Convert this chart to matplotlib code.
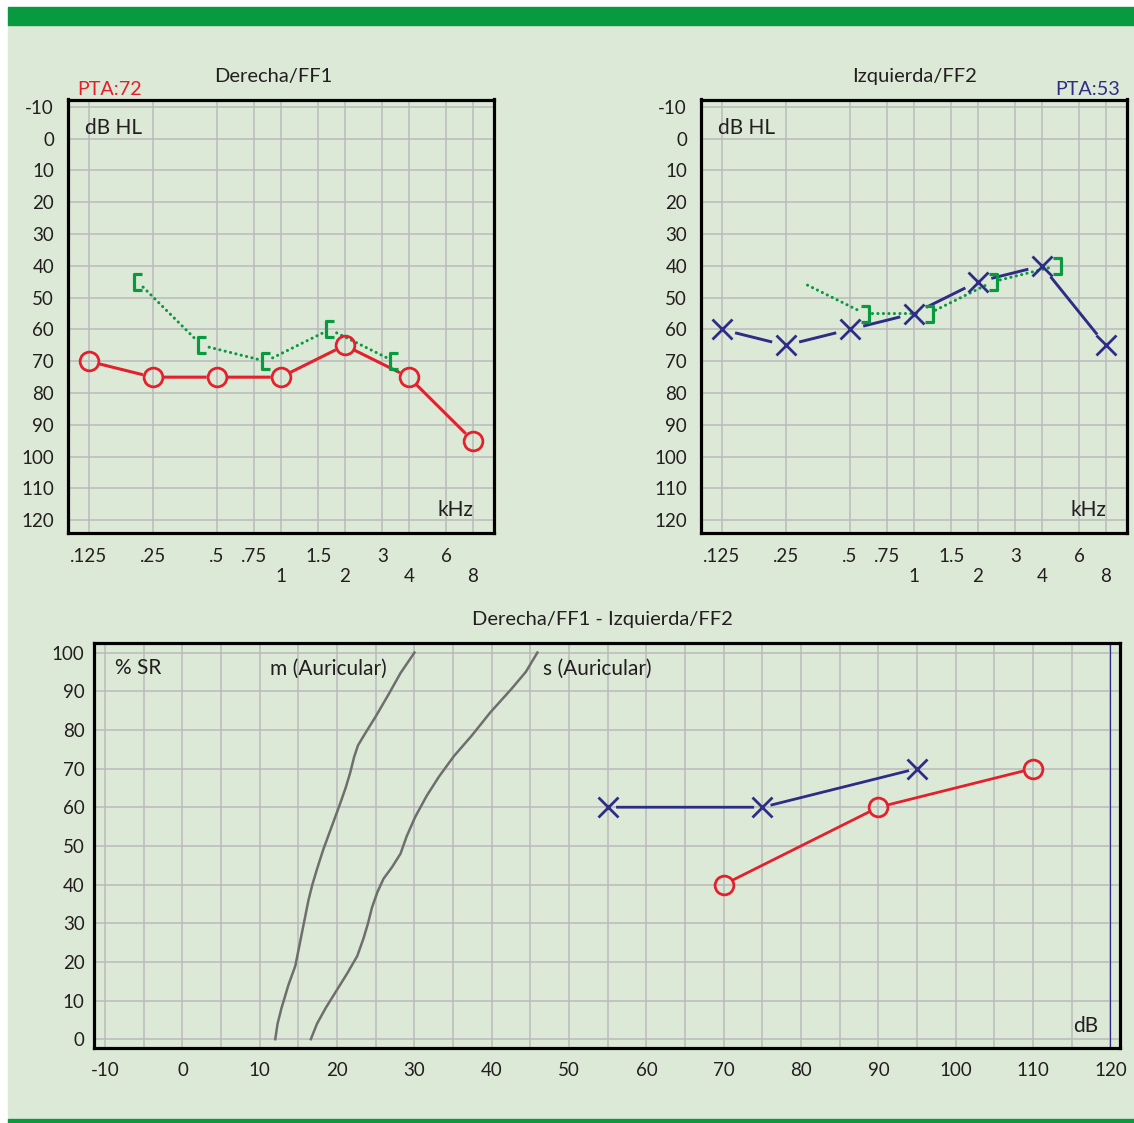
import matplotlib
matplotlib.use("Agg")
import matplotlib.pyplot as plt
from matplotlib.markers import MarkerStyle
from matplotlib.patches import Rectangle
from matplotlib.path import Path
from matplotlib.transforms import offset_copy

plt.rcParams["font.family"] = ["Lato", "DejaVu Sans"]
plt.rcParams["axes.unicode_minus"] = False

BG = "#DDE9D7"
GREEN = "#089A3E"
RED = "#E3202C"
BLUE = "#2E2D86"
GRID = "#B9B9B9"
INK = "#231F20"
GREY = "#6E6E6E"

# --- audiometria tonal (dB HL) ---
freqs = [0.125, 0.25, 0.5, 1, 2, 4, 8]
right_air = [70, 75, 75, 75, 65, 75, 95]
left_air = [60, 65, 60, 55, 45, 40, 65]
right_bone_f = [0.25, 0.5, 1, 2, 4]
right_bone = [45, 65, 70, 60, 70]
left_bone_f = [0.25, 0.5, 1, 2, 4]
left_bone = [45, 55, 55, 45, 40]
pta_right = 72
pta_left = 53

freq_top = [0.125, 0.25, 0.5, 0.75, 1.5, 3, 6]
freq_top_lbl = [".125", ".25", ".5", ".75", "1.5", "3", "6"]
freq_bot = [1, 2, 4, 8]
freq_bot_lbl = ["1", "2", "4", "8"]
db_ticks = list(range(-10, 121, 10))

# --- logoaudiometria (% SR) ---
speech_db_right = [70, 90, 110]
speech_pct_right = [40, 60, 70]
speech_db_left = [55, 75, 95]
speech_pct_left = [60, 60, 70]
m_db = [12.0, 12.3, 12.8, 13.7, 14.6, 15.1, 15.5, 15.9, 16.3, 16.8, 17.4,
        18.2, 19.3, 20.4, 21.1, 21.7, 22.2, 22.7, 23.6, 25.0, 26.6, 28.2, 30.0]
m_pct = [0, 4, 8, 14, 19, 24, 28, 32, 36, 40, 44, 49, 55, 61, 65, 69, 73,
         76, 79, 83.5, 89, 94.7, 100]
s_db = [16.6, 17.4, 18.5, 19.9, 21.3, 22.6, 23.4, 24.0, 24.5, 25.2, 26.0,
        27.1, 28.2, 29.0, 30.1, 31.6, 33.2, 35.1, 37.4, 39.8, 42.5, 44.4, 45.9]
s_pct = [0, 4, 8, 12.5, 17, 21.5, 26, 30, 34, 38, 41.5, 44.5, 48, 52.5,
         57.5, 63, 68, 73.2, 78.5, 84.5, 90.5, 95, 100]
speech_x_ticks = list(range(-10, 121, 10))
speech_x_minor = list(range(-5, 121, 10))
speech_y_ticks = list(range(0, 101, 10))

# corchetes de via osea enmascarada
OPEN_L = MarkerStyle(Path([(0.5, 1), (-0.5, 1), (-0.5, -1), (0.5, -1)]),
                     fillstyle="none", joinstyle="miter")
OPEN_R = MarkerStyle(Path([(-0.5, 1), (0.5, 1), (0.5, -1), (-0.5, -1)]),
                     fillstyle="none", joinstyle="miter")
DOTS = (0, (0.05, 1.75))


def gapped(ax, xs, ys, gap, color, lw, ls="-", trans=None, cap="butt"):
    """Une puntos consecutivos dejando un hueco alrededor de cada simbolo."""
    trans = ax.transData if trans is None else trans
    pts = list(zip(xs, ys))
    for p0, p1 in zip(pts[:-1], pts[1:]):
        ax.annotate("", xy=p1, xytext=p0, xycoords=trans, textcoords=trans,
                    arrowprops=dict(arrowstyle="-", color=color, lw=lw, ls=ls,
                                    capstyle=cap, shrinkA=gap, shrinkB=gap))


def frame(ax):
    ax.set_facecolor(BG)
    ax.set_axisbelow(True)
    for sp in ax.spines.values():
        sp.set_linewidth(2.3)
        sp.set_color("black")
        sp.set_zorder(5)
    ax.grid(True, which="both", color=GRID, lw=1.1)
    ax.tick_params(which="both", length=0, labelsize=13.5, labelcolor=INK)


def audiogram(ax):
    ax.set_xscale("log")
    ax.set_xlim(0.1, 10)
    ax.set_ylim(124, -12.3)
    ax.set_xticks(freq_top, freq_top_lbl)
    ax.set_xticks(freq_bot, freq_bot_lbl, minor=True)
    ax.set_yticks(db_ticks)
    frame(ax)
    ax.tick_params(axis="x", which="major", pad=11)
    ax.tick_params(axis="x", which="minor", pad=25)
    ax.tick_params(axis="y", pad=10)
    ax.text(0.039, 0.934, "dB HL", transform=ax.transAxes, fontsize=15,
            color=INK, va="center", ha="left")
    ax.text(0.952, 0.053, "kHz", transform=ax.transAxes, fontsize=15,
            color=INK, va="center", ha="right")


W, H = 1134, 1123
fig = plt.figure(figsize=(W / 100, H / 100), dpi=100)
fig.patch.set_facecolor("white")
fig.add_artist(Rectangle((8 / W, 1 - 1119 / H), (W - 8) / W, 1094 / H,
                         transform=fig.transFigure, color=BG, zorder=0))
fig.add_artist(Rectangle((8 / W, 1 - 25 / H), (W - 8) / W, 18 / H,
                         transform=fig.transFigure, color=GREEN, zorder=0))
fig.add_artist(Rectangle((8 / W, 0), (W - 8) / W, 4 / H,
                         transform=fig.transFigure, color=GREEN, zorder=0))

ax_r = fig.add_axes([68 / W, 1 - 533 / H, 425.5 / W, 433.5 / H])
ax_l = fig.add_axes([701 / W, 1 - 533 / H, 425.5 / W, 433.5 / H])
ax_s = fig.add_axes([94.3 / W, 1 - 1047.7 / H, 1025.4 / W, 404.4 / H])

# oido derecho
audiogram(ax_r)
ax_r.text(0.483, 1.053, "Derecha/FF1", transform=ax_r.transAxes,
          fontsize=14.5, color=INK, ha="center", va="center")
ax_r.text(0.021, 1.022, f"PTA:{pta_right}", transform=ax_r.transAxes,
          fontsize=14.2, color=RED, ha="left", va="center")
shift_l = offset_copy(ax_r.transData, fig=fig, x=-10.8, y=0, units="points")
gapped(ax_r, right_bone_f, right_bone, 5.5, GREEN, 2.2, ls=DOTS,
       trans=shift_l, cap="round")
ax_r.plot(right_bone_f, right_bone, ls="none", marker=OPEN_L, ms=11,
          mec=GREEN, mew=2.3, transform=shift_l, zorder=4)
gapped(ax_r, freqs, right_air, 7.2, RED, 2.2)
ax_r.plot(freqs, right_air, ls="none", marker="o", ms=13.5, mfc="none",
          mec=RED, mew=2.0, zorder=4)

# oido izquierdo
audiogram(ax_l)
ax_l.text(0.503, 1.053, "Izquierda/FF2", transform=ax_l.transAxes,
          fontsize=14.5, color=INK, ha="center", va="center")
ax_l.text(0.985, 1.022, f"PTA:{pta_left}", transform=ax_l.transAxes,
          fontsize=14.2, color=BLUE, ha="right", va="center")
shift_r = offset_copy(ax_l.transData, fig=fig, x=10.8, y=0, units="points")
gapped(ax_l, left_bone_f, left_bone, 5.5, GREEN, 2.2, ls=DOTS,
       trans=shift_r, cap="round")
ax_l.plot(left_bone_f[1:], left_bone[1:], ls="none", marker=OPEN_R, ms=11,
          mec=GREEN, mew=2.3, transform=shift_r, zorder=4)
gapped(ax_l, freqs, left_air, 10, BLUE, 2.1)
ax_l.plot(freqs, left_air, ls="none", marker="x", ms=15, mec=BLUE, mew=2.0,
          zorder=4)

# logoaudiometria
ax_s.set_xlim(-11.4, 121.2)
ax_s.set_ylim(-2.2, 102.4)
ax_s.set_xticks(speech_x_ticks)
ax_s.set_xticks(speech_x_minor, minor=True)
ax_s.set_yticks(speech_y_ticks)
frame(ax_s)
ax_s.tick_params(axis="x", which="both", pad=10)
ax_s.tick_params(axis="y", pad=7)
ax_s.axvline(120, color=BLUE, lw=0.9, zorder=3)
ax_s.plot(m_db, m_pct, color=GREY, lw=1.8, zorder=3, solid_joinstyle="round")
ax_s.plot(s_db, s_pct, color=GREY, lw=1.8, zorder=3, solid_joinstyle="round")
gapped(ax_s, speech_db_left, speech_pct_left, 6, BLUE, 2.0)
ax_s.plot(speech_db_left, speech_pct_left, ls="none", marker="x", ms=15,
          mec=BLUE, mew=2.0, zorder=4)
gapped(ax_s, speech_db_right, speech_pct_right, 7.2, RED, 2.0)
ax_s.plot(speech_db_right, speech_pct_right, ls="none", marker="o", ms=13.5,
          mfc="none", mec=RED, mew=2.0, zorder=4)

ax_s.text(0.4956, 1.06, "Derecha/FF1 - Izquierda/FF2", transform=ax_s.transAxes,
          fontsize=14.5, color=INK, ha="center", va="center")
for xpos, label in [(0.020, "% SR"), (0.171, "m (Auricular)"),
                    (0.438, "s (Auricular)")]:
    ax_s.text(xpos, 0.938, label, transform=ax_s.transAxes, fontsize=15,
              color=INK, ha="left", va="center")
ax_s.text(0.979, 0.054, "dB", transform=ax_s.transAxes, fontsize=15,
          color=INK, ha="right", va="center")

fig.savefig("out.png", dpi=100, facecolor=fig.get_facecolor())
